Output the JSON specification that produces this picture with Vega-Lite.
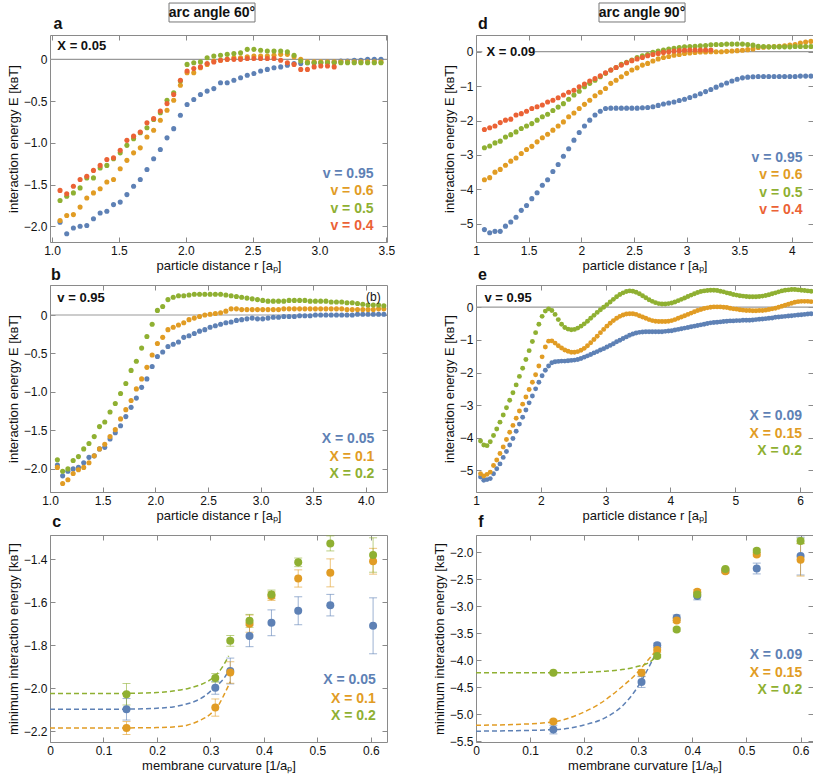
{
"$schema":"https://vega.github.io/schema/vega-lite/v6.json",
"background":"white",
"padding":{"left":6,"top":1,"right":2,"bottom":2},
"columns":2,
"spacing":{"row":43,"column":89},
"bounds":"flush",
"datasets":{
"one":[{}],
"a":[
{"r":1.06,"y":-1.95,"c":"b"},{"r":1.11,"y":-2.09,"c":"b"},{"r":1.16,"y":-2.02,"c":"b"},{"r":1.21,"y":-2.0,"c":"b"},{"r":1.26,"y":-1.99,"c":"b"},{"r":1.31,"y":-1.91,"c":"b"},{"r":1.36,"y":-1.84,"c":"b"},{"r":1.41,"y":-1.82,"c":"b"},{"r":1.46,"y":-1.74,"c":"b"},{"r":1.51,"y":-1.71,"c":"b"},{"r":1.56,"y":-1.62,"c":"b"},{"r":1.61,"y":-1.52,"c":"b"},{"r":1.66,"y":-1.44,"c":"b"},{"r":1.71,"y":-1.32,"c":"b"},{"r":1.76,"y":-1.19,"c":"b"},{"r":1.81,"y":-1.08,"c":"b"},{"r":1.86,"y":-0.94,"c":"b"},{"r":1.91,"y":-0.83,"c":"b"},{"r":1.96,"y":-0.67,"c":"b"},{"r":2.01,"y":-0.54,"c":"b"},{"r":2.06,"y":-0.48,"c":"b"},{"r":2.11,"y":-0.42,"c":"b"},{"r":2.16,"y":-0.38,"c":"b"},{"r":2.21,"y":-0.35,"c":"b"},{"r":2.26,"y":-0.28,"c":"b"},{"r":2.31,"y":-0.28,"c":"b"},{"r":2.36,"y":-0.25,"c":"b"},{"r":2.41,"y":-0.22,"c":"b"},{"r":2.46,"y":-0.19,"c":"b"},{"r":2.51,"y":-0.17,"c":"b"},{"r":2.56,"y":-0.14,"c":"b"},{"r":2.61,"y":-0.12,"c":"b"},{"r":2.66,"y":-0.1,"c":"b"},{"r":2.71,"y":-0.09,"c":"b"},{"r":2.76,"y":-0.07,"c":"b"},{"r":2.81,"y":-0.05,"c":"b"},{"r":2.86,"y":-0.05,"c":"b"},{"r":2.91,"y":-0.04,"c":"b"},{"r":2.96,"y":-0.04,"c":"b"},{"r":3.01,"y":-0.04,"c":"b"},{"r":3.06,"y":-0.03,"c":"b"},{"r":3.11,"y":-0.03,"c":"b"},{"r":3.16,"y":-0.02,"c":"b"},{"r":3.21,"y":-0.02,"c":"b"},{"r":3.26,"y":-0.01,"c":"b"},{"r":3.31,"y":-0.01,"c":"b"},{"r":3.36,"y":0.0,"c":"b"},{"r":3.41,"y":0.0,"c":"b"},{"r":3.46,"y":0.0,"c":"b"},
{"r":1.06,"y":-1.93,"c":"o"},{"r":1.11,"y":-1.87,"c":"o"},{"r":1.16,"y":-1.86,"c":"o"},{"r":1.21,"y":-1.77,"c":"o"},{"r":1.26,"y":-1.66,"c":"o"},{"r":1.31,"y":-1.6,"c":"o"},{"r":1.36,"y":-1.55,"c":"o"},{"r":1.41,"y":-1.47,"c":"o"},{"r":1.46,"y":-1.44,"c":"o"},{"r":1.51,"y":-1.31,"c":"o"},{"r":1.56,"y":-1.21,"c":"o"},{"r":1.61,"y":-1.12,"c":"o"},{"r":1.66,"y":-1.06,"c":"o"},{"r":1.71,"y":-0.93,"c":"o"},{"r":1.76,"y":-0.85,"c":"o"},{"r":1.81,"y":-0.73,"c":"o"},{"r":1.86,"y":-0.61,"c":"o"},{"r":1.91,"y":-0.49,"c":"o"},{"r":1.96,"y":-0.31,"c":"o"},{"r":2.01,"y":-0.16,"c":"o"},{"r":2.06,"y":-0.16,"c":"o"},{"r":2.11,"y":-0.1,"c":"o"},{"r":2.16,"y":-0.06,"c":"o"},{"r":2.21,"y":-0.02,"c":"o"},{"r":2.26,"y":-0.01,"c":"o"},{"r":2.31,"y":0.0,"c":"o"},{"r":2.36,"y":0.02,"c":"o"},{"r":2.41,"y":0.02,"c":"o"},{"r":2.46,"y":0.03,"c":"o"},{"r":2.51,"y":0.04,"c":"o"},{"r":2.56,"y":0.04,"c":"o"},{"r":2.61,"y":0.04,"c":"o"},{"r":2.66,"y":0.05,"c":"o"},{"r":2.71,"y":0.06,"c":"o"},{"r":2.76,"y":0.06,"c":"o"},{"r":2.81,"y":0.03,"c":"o"},{"r":2.86,"y":0.0,"c":"o"},{"r":2.91,"y":-0.03,"c":"o"},{"r":2.96,"y":-0.03,"c":"o"},{"r":3.01,"y":-0.03,"c":"o"},{"r":3.06,"y":-0.03,"c":"o"},{"r":3.11,"y":-0.03,"c":"o"},{"r":3.16,"y":-0.03,"c":"o"},{"r":3.21,"y":-0.03,"c":"o"},{"r":3.26,"y":-0.03,"c":"o"},{"r":3.31,"y":-0.03,"c":"o"},{"r":3.36,"y":-0.03,"c":"o"},{"r":3.41,"y":-0.03,"c":"o"},{"r":3.46,"y":-0.03,"c":"o"},
{"r":1.06,"y":-1.69,"c":"g"},{"r":1.11,"y":-1.64,"c":"g"},{"r":1.16,"y":-1.6,"c":"g"},{"r":1.21,"y":-1.54,"c":"g"},{"r":1.26,"y":-1.42,"c":"g"},{"r":1.31,"y":-1.42,"c":"g"},{"r":1.36,"y":-1.3,"c":"g"},{"r":1.41,"y":-1.27,"c":"g"},{"r":1.46,"y":-1.19,"c":"g"},{"r":1.51,"y":-1.12,"c":"g"},{"r":1.56,"y":-1.03,"c":"g"},{"r":1.61,"y":-0.95,"c":"g"},{"r":1.66,"y":-0.88,"c":"g"},{"r":1.71,"y":-0.82,"c":"g"},{"r":1.76,"y":-0.72,"c":"g"},{"r":1.81,"y":-0.64,"c":"g"},{"r":1.86,"y":-0.49,"c":"g"},{"r":1.91,"y":-0.4,"c":"g"},{"r":1.96,"y":-0.26,"c":"g"},{"r":2.01,"y":-0.06,"c":"g"},{"r":2.06,"y":-0.04,"c":"g"},{"r":2.11,"y":-0.03,"c":"g"},{"r":2.16,"y":0.02,"c":"g"},{"r":2.21,"y":0.04,"c":"g"},{"r":2.26,"y":0.05,"c":"g"},{"r":2.31,"y":0.06,"c":"g"},{"r":2.36,"y":0.07,"c":"g"},{"r":2.41,"y":0.08,"c":"g"},{"r":2.46,"y":0.12,"c":"g"},{"r":2.51,"y":0.12,"c":"g"},{"r":2.56,"y":0.11,"c":"g"},{"r":2.61,"y":0.1,"c":"g"},{"r":2.66,"y":0.1,"c":"g"},{"r":2.71,"y":0.1,"c":"g"},{"r":2.76,"y":0.09,"c":"g"},{"r":2.81,"y":0.05,"c":"g"},{"r":2.86,"y":-0.02,"c":"g"},{"r":2.91,"y":-0.04,"c":"g"},{"r":2.96,"y":-0.04,"c":"g"},{"r":3.01,"y":-0.04,"c":"g"},{"r":3.06,"y":-0.04,"c":"g"},{"r":3.11,"y":-0.04,"c":"g"},{"r":3.16,"y":-0.04,"c":"g"},{"r":3.21,"y":-0.04,"c":"g"},{"r":3.26,"y":-0.04,"c":"g"},{"r":3.31,"y":-0.04,"c":"g"},{"r":3.36,"y":-0.04,"c":"g"},{"r":3.41,"y":-0.04,"c":"g"},{"r":3.46,"y":-0.04,"c":"g"},
{"r":1.06,"y":-1.57,"c":"r"},{"r":1.11,"y":-1.61,"c":"r"},{"r":1.16,"y":-1.52,"c":"r"},{"r":1.21,"y":-1.44,"c":"r"},{"r":1.26,"y":-1.4,"c":"r"},{"r":1.31,"y":-1.33,"c":"r"},{"r":1.36,"y":-1.27,"c":"r"},{"r":1.41,"y":-1.2,"c":"r"},{"r":1.46,"y":-1.18,"c":"r"},{"r":1.51,"y":-1.09,"c":"r"},{"r":1.56,"y":-0.97,"c":"r"},{"r":1.61,"y":-0.92,"c":"r"},{"r":1.66,"y":-0.87,"c":"r"},{"r":1.71,"y":-0.76,"c":"r"},{"r":1.76,"y":-0.71,"c":"r"},{"r":1.81,"y":-0.62,"c":"r"},{"r":1.86,"y":-0.53,"c":"r"},{"r":1.91,"y":-0.42,"c":"r"},{"r":1.96,"y":-0.25,"c":"r"},{"r":2.01,"y":-0.14,"c":"r"},{"r":2.06,"y":-0.11,"c":"r"},{"r":2.11,"y":-0.09,"c":"r"},{"r":2.16,"y":-0.05,"c":"r"},{"r":2.21,"y":-0.03,"c":"r"},{"r":2.26,"y":-0.01,"c":"r"},{"r":2.31,"y":0.0,"c":"r"},{"r":2.36,"y":0.0,"c":"r"},{"r":2.41,"y":0.0,"c":"r"},{"r":2.46,"y":0.01,"c":"r"},{"r":2.51,"y":0.01,"c":"r"},{"r":2.56,"y":0.01,"c":"r"},{"r":2.61,"y":0.01,"c":"r"},{"r":2.66,"y":0.01,"c":"r"},{"r":2.71,"y":-0.01,"c":"r"},{"r":2.76,"y":-0.04,"c":"r"},{"r":2.81,"y":-0.06,"c":"r"},{"r":2.86,"y":-0.12,"c":"r"},{"r":2.91,"y":-0.12,"c":"r"},{"r":2.96,"y":-0.09,"c":"r"},{"r":3.01,"y":-0.08,"c":"r"},{"r":3.06,"y":-0.08,"c":"r"},{"r":3.11,"y":-0.09,"c":"r"}
],
"b":[
{"r":1.07,"y":-1.95,"c":"b"},{"r":1.12,"y":-2.09,"c":"b"},{"r":1.17,"y":-2.03,"c":"b"},{"r":1.22,"y":-2.0,"c":"b"},{"r":1.27,"y":-1.98,"c":"b"},{"r":1.32,"y":-1.92,"c":"b"},{"r":1.37,"y":-1.85,"c":"b"},{"r":1.42,"y":-1.83,"c":"b"},{"r":1.47,"y":-1.74,"c":"b"},{"r":1.52,"y":-1.72,"c":"b"},{"r":1.57,"y":-1.61,"c":"b"},{"r":1.62,"y":-1.53,"c":"b"},{"r":1.67,"y":-1.44,"c":"b"},{"r":1.72,"y":-1.32,"c":"b"},{"r":1.77,"y":-1.2,"c":"b"},{"r":1.82,"y":-1.08,"c":"b"},{"r":1.87,"y":-0.94,"c":"b"},{"r":1.92,"y":-0.83,"c":"b"},{"r":1.97,"y":-0.67,"c":"b"},{"r":2.02,"y":-0.54,"c":"b"},{"r":2.07,"y":-0.48,"c":"b"},{"r":2.12,"y":-0.41,"c":"b"},{"r":2.17,"y":-0.38,"c":"b"},{"r":2.22,"y":-0.35,"c":"b"},{"r":2.27,"y":-0.29,"c":"b"},{"r":2.32,"y":-0.27,"c":"b"},{"r":2.37,"y":-0.24,"c":"b"},{"r":2.42,"y":-0.21,"c":"b"},{"r":2.47,"y":-0.19,"c":"b"},{"r":2.52,"y":-0.16,"c":"b"},{"r":2.57,"y":-0.14,"c":"b"},{"r":2.62,"y":-0.12,"c":"b"},{"r":2.67,"y":-0.1,"c":"b"},{"r":2.72,"y":-0.09,"c":"b"},{"r":2.77,"y":-0.07,"c":"b"},{"r":2.82,"y":-0.06,"c":"b"},{"r":2.87,"y":-0.05,"c":"b"},{"r":2.92,"y":-0.04,"c":"b"},{"r":2.97,"y":-0.05,"c":"b"},{"r":3.02,"y":-0.05,"c":"b"},{"r":3.07,"y":-0.04,"c":"b"},{"r":3.12,"y":-0.03,"c":"b"},{"r":3.17,"y":-0.03,"c":"b"},{"r":3.22,"y":-0.02,"c":"b"},{"r":3.27,"y":-0.02,"c":"b"},{"r":3.32,"y":-0.02,"c":"b"},{"r":3.37,"y":-0.01,"c":"b"},{"r":3.42,"y":-0.01,"c":"b"},{"r":3.47,"y":-0.01,"c":"b"},{"r":3.52,"y":0.0,"c":"b"},{"r":3.57,"y":0.0,"c":"b"},{"r":3.62,"y":0.0,"c":"b"},{"r":3.67,"y":0.0,"c":"b"},{"r":3.72,"y":0.0,"c":"b"},{"r":3.77,"y":0.0,"c":"b"},{"r":3.82,"y":0.0,"c":"b"},{"r":3.87,"y":0.0,"c":"b"},{"r":3.92,"y":0.01,"c":"b"},{"r":3.97,"y":0.01,"c":"b"},{"r":4.02,"y":0.01,"c":"b"},{"r":4.07,"y":0.01,"c":"b"},{"r":4.12,"y":0.01,"c":"b"},{"r":4.17,"y":0.01,"c":"b"},
{"r":1.07,"y":-1.98,"c":"o"},{"r":1.12,"y":-2.19,"c":"o"},{"r":1.17,"y":-2.14,"c":"o"},{"r":1.22,"y":-2.06,"c":"o"},{"r":1.27,"y":-2.01,"c":"o"},{"r":1.32,"y":-1.98,"c":"o"},{"r":1.37,"y":-1.92,"c":"o"},{"r":1.42,"y":-1.83,"c":"o"},{"r":1.47,"y":-1.74,"c":"o"},{"r":1.52,"y":-1.68,"c":"o"},{"r":1.57,"y":-1.58,"c":"o"},{"r":1.62,"y":-1.49,"c":"o"},{"r":1.67,"y":-1.35,"c":"o"},{"r":1.72,"y":-1.23,"c":"o"},{"r":1.77,"y":-1.11,"c":"o"},{"r":1.82,"y":-0.96,"c":"o"},{"r":1.87,"y":-0.83,"c":"o"},{"r":1.92,"y":-0.68,"c":"o"},{"r":1.97,"y":-0.52,"c":"o"},{"r":2.02,"y":-0.37,"c":"o"},{"r":2.07,"y":-0.29,"c":"o"},{"r":2.12,"y":-0.19,"c":"o"},{"r":2.17,"y":-0.16,"c":"o"},{"r":2.22,"y":-0.13,"c":"o"},{"r":2.27,"y":-0.1,"c":"o"},{"r":2.32,"y":-0.06,"c":"o"},{"r":2.37,"y":-0.04,"c":"o"},{"r":2.42,"y":-0.02,"c":"o"},{"r":2.47,"y":0.0,"c":"o"},{"r":2.52,"y":0.01,"c":"o"},{"r":2.57,"y":0.02,"c":"o"},{"r":2.62,"y":0.03,"c":"o"},{"r":2.67,"y":0.05,"c":"o"},{"r":2.72,"y":0.08,"c":"o"},{"r":2.77,"y":0.08,"c":"o"},{"r":2.82,"y":0.07,"c":"o"},{"r":2.87,"y":0.07,"c":"o"},{"r":2.92,"y":0.07,"c":"o"},{"r":2.97,"y":0.07,"c":"o"},{"r":3.02,"y":0.07,"c":"o"},{"r":3.07,"y":0.07,"c":"o"},{"r":3.12,"y":0.07,"c":"o"},{"r":3.17,"y":0.07,"c":"o"},{"r":3.22,"y":0.08,"c":"o"},{"r":3.27,"y":0.08,"c":"o"},{"r":3.32,"y":0.08,"c":"o"},{"r":3.37,"y":0.08,"c":"o"},{"r":3.42,"y":0.08,"c":"o"},{"r":3.47,"y":0.08,"c":"o"},{"r":3.52,"y":0.08,"c":"o"},{"r":3.57,"y":0.08,"c":"o"},{"r":3.62,"y":0.08,"c":"o"},{"r":3.67,"y":0.08,"c":"o"},{"r":3.72,"y":0.08,"c":"o"},{"r":3.77,"y":0.08,"c":"o"},{"r":3.82,"y":0.07,"c":"o"},{"r":3.87,"y":0.07,"c":"o"},{"r":3.92,"y":0.07,"c":"o"},{"r":3.97,"y":0.07,"c":"o"},{"r":4.02,"y":0.07,"c":"o"},{"r":4.07,"y":0.07,"c":"o"},{"r":4.12,"y":0.08,"c":"o"},{"r":4.17,"y":0.08,"c":"o"},
{"r":1.07,"y":-1.88,"c":"g"},{"r":1.12,"y":-2.03,"c":"g"},{"r":1.17,"y":-2.0,"c":"g"},{"r":1.22,"y":-1.89,"c":"g"},{"r":1.27,"y":-1.84,"c":"g"},{"r":1.32,"y":-1.74,"c":"g"},{"r":1.37,"y":-1.67,"c":"g"},{"r":1.42,"y":-1.58,"c":"g"},{"r":1.47,"y":-1.45,"c":"g"},{"r":1.52,"y":-1.39,"c":"g"},{"r":1.57,"y":-1.26,"c":"g"},{"r":1.62,"y":-1.15,"c":"g"},{"r":1.67,"y":-1.02,"c":"g"},{"r":1.72,"y":-0.89,"c":"g"},{"r":1.77,"y":-0.72,"c":"g"},{"r":1.82,"y":-0.6,"c":"g"},{"r":1.87,"y":-0.43,"c":"g"},{"r":1.92,"y":-0.28,"c":"g"},{"r":1.97,"y":-0.12,"c":"g"},{"r":2.02,"y":0.06,"c":"g"},{"r":2.07,"y":0.11,"c":"g"},{"r":2.12,"y":0.2,"c":"g"},{"r":2.17,"y":0.23,"c":"g"},{"r":2.22,"y":0.25,"c":"g"},{"r":2.27,"y":0.25,"c":"g"},{"r":2.32,"y":0.26,"c":"g"},{"r":2.37,"y":0.27,"c":"g"},{"r":2.42,"y":0.27,"c":"g"},{"r":2.47,"y":0.27,"c":"g"},{"r":2.52,"y":0.27,"c":"g"},{"r":2.57,"y":0.27,"c":"g"},{"r":2.62,"y":0.27,"c":"g"},{"r":2.67,"y":0.26,"c":"g"},{"r":2.72,"y":0.25,"c":"g"},{"r":2.77,"y":0.24,"c":"g"},{"r":2.82,"y":0.23,"c":"g"},{"r":2.87,"y":0.22,"c":"g"},{"r":2.92,"y":0.21,"c":"g"},{"r":2.97,"y":0.2,"c":"g"},{"r":3.02,"y":0.19,"c":"g"},{"r":3.07,"y":0.18,"c":"g"},{"r":3.12,"y":0.18,"c":"g"},{"r":3.17,"y":0.18,"c":"g"},{"r":3.22,"y":0.18,"c":"g"},{"r":3.27,"y":0.19,"c":"g"},{"r":3.32,"y":0.19,"c":"g"},{"r":3.37,"y":0.19,"c":"g"},{"r":3.42,"y":0.19,"c":"g"},{"r":3.47,"y":0.18,"c":"g"},{"r":3.52,"y":0.18,"c":"g"},{"r":3.57,"y":0.18,"c":"g"},{"r":3.62,"y":0.18,"c":"g"},{"r":3.67,"y":0.17,"c":"g"},{"r":3.72,"y":0.17,"c":"g"},{"r":3.77,"y":0.17,"c":"g"},{"r":3.82,"y":0.16,"c":"g"},{"r":3.87,"y":0.16,"c":"g"},{"r":3.92,"y":0.15,"c":"g"},{"r":3.97,"y":0.14,"c":"g"},{"r":4.02,"y":0.13,"c":"g"},{"r":4.07,"y":0.13,"c":"g"},{"r":4.12,"y":0.13,"c":"g"},{"r":4.17,"y":0.12,"c":"g"}
],
"c":[
{"r":0.143,"y":-2.098,"lo":-2.148,"hi":-2.048,"c":"b"},{"r":0.309,"y":-1.998,"lo":-2.028,"hi":-1.968,"c":"b"},{"r":0.337,"y":-1.92,"lo":-1.98,"hi":-1.86,"c":"b"},{"r":0.373,"y":-1.757,"lo":-1.807,"hi":-1.707,"c":"b"},{"r":0.414,"y":-1.696,"lo":-1.756,"hi":-1.636,"c":"b"},{"r":0.464,"y":-1.64,"lo":-1.705,"hi":-1.575,"c":"b"},{"r":0.524,"y":-1.614,"lo":-1.664,"hi":-1.564,"c":"b"},{"r":0.604,"y":-1.71,"lo":-1.84,"hi":-1.58,"c":"b"},
{"r":0.143,"y":-2.185,"lo":-2.215,"hi":-2.155,"c":"o"},{"r":0.309,"y":-2.09,"lo":-2.13,"hi":-2.05,"c":"o"},{"r":0.337,"y":-1.927,"lo":-1.977,"hi":-1.877,"c":"o"},{"r":0.373,"y":-1.7,"lo":-1.74,"hi":-1.66,"c":"o"},{"r":0.414,"y":-1.572,"lo":-1.592,"hi":-1.552,"c":"o"},{"r":0.464,"y":-1.49,"lo":-1.53,"hi":-1.45,"c":"o"},{"r":0.524,"y":-1.464,"lo":-1.529,"hi":-1.399,"c":"o"},{"r":0.604,"y":-1.41,"lo":-1.47,"hi":-1.35,"c":"o"},
{"r":0.143,"y":-2.028,"lo":-2.078,"hi":-1.978,"c":"g"},{"r":0.309,"y":-1.952,"lo":-1.972,"hi":-1.932,"c":"g"},{"r":0.337,"y":-1.78,"lo":-1.805,"hi":-1.755,"c":"g"},{"r":0.373,"y":-1.687,"lo":-1.717,"hi":-1.657,"c":"g"},{"r":0.414,"y":-1.564,"lo":-1.584,"hi":-1.544,"c":"g"},{"r":0.464,"y":-1.415,"lo":-1.435,"hi":-1.395,"c":"g"},{"r":0.524,"y":-1.327,"lo":-1.362,"hi":-1.292,"c":"g"},{"r":0.604,"y":-1.381,"lo":-1.461,"hi":-1.301,"c":"g"}
],
"cfit":[
{"r":0,"y":-2.098,"c":"b"},{"r":0.1,"y":-2.098,"c":"b"},{"r":0.15,"y":-2.097,"c":"b"},{"r":0.2,"y":-2.093,"c":"b"},{"r":0.23,"y":-2.087,"c":"b"},{"r":0.25,"y":-2.077,"c":"b"},{"r":0.27,"y":-2.062,"c":"b"},{"r":0.29,"y":-2.035,"c":"b"},{"r":0.306,"y":-2.0,"c":"b"},{"r":0.325,"y":-1.955,"c":"b"},{"r":0.334,"y":-1.92,"c":"b"},
{"r":0,"y":-2.185,"c":"o"},{"r":0.1,"y":-2.185,"c":"o"},{"r":0.2,"y":-2.183,"c":"o"},{"r":0.23,"y":-2.18,"c":"o"},{"r":0.256,"y":-2.172,"c":"o"},{"r":0.28,"y":-2.15,"c":"o"},{"r":0.3,"y":-2.12,"c":"o"},{"r":0.317,"y":-2.07,"c":"o"},{"r":0.328,"y":-2.017,"c":"o"},{"r":0.337,"y":-1.97,"c":"o"},
{"r":0,"y":-2.025,"c":"g"},{"r":0.1,"y":-2.025,"c":"g"},{"r":0.15,"y":-2.024,"c":"g"},{"r":0.2,"y":-2.02,"c":"g"},{"r":0.23,"y":-2.013,"c":"g"},{"r":0.26,"y":-2.0,"c":"g"},{"r":0.28,"y":-1.985,"c":"g"},{"r":0.3,"y":-1.96,"c":"g"},{"r":0.31,"y":-1.94,"c":"g"},{"r":0.32,"y":-1.91,"c":"g"},{"r":0.334,"y":-1.85,"c":"g"}
],
"d":[
{"r":1.08,"y":-5.17,"c":"b"},{"r":1.13,"y":-5.26,"c":"b"},{"r":1.18,"y":-5.22,"c":"b"},{"r":1.23,"y":-5.22,"c":"b"},{"r":1.28,"y":-5.07,"c":"b"},{"r":1.33,"y":-4.95,"c":"b"},{"r":1.38,"y":-4.81,"c":"b"},{"r":1.43,"y":-4.61,"c":"b"},{"r":1.48,"y":-4.47,"c":"b"},{"r":1.53,"y":-4.27,"c":"b"},{"r":1.58,"y":-4.1,"c":"b"},{"r":1.63,"y":-3.88,"c":"b"},{"r":1.68,"y":-3.72,"c":"b"},{"r":1.73,"y":-3.48,"c":"b"},{"r":1.78,"y":-3.28,"c":"b"},{"r":1.83,"y":-3.04,"c":"b"},{"r":1.88,"y":-2.82,"c":"b"},{"r":1.93,"y":-2.57,"c":"b"},{"r":1.98,"y":-2.35,"c":"b"},{"r":2.03,"y":-2.16,"c":"b"},{"r":2.08,"y":-1.99,"c":"b"},{"r":2.13,"y":-1.84,"c":"b"},{"r":2.18,"y":-1.73,"c":"b"},{"r":2.23,"y":-1.65,"c":"b"},{"r":2.28,"y":-1.64,"c":"b"},{"r":2.33,"y":-1.64,"c":"b"},{"r":2.38,"y":-1.64,"c":"b"},{"r":2.43,"y":-1.64,"c":"b"},{"r":2.48,"y":-1.64,"c":"b"},{"r":2.53,"y":-1.64,"c":"b"},{"r":2.58,"y":-1.63,"c":"b"},{"r":2.63,"y":-1.62,"c":"b"},{"r":2.68,"y":-1.6,"c":"b"},{"r":2.73,"y":-1.56,"c":"b"},{"r":2.78,"y":-1.52,"c":"b"},{"r":2.83,"y":-1.49,"c":"b"},{"r":2.88,"y":-1.46,"c":"b"},{"r":2.93,"y":-1.42,"c":"b"},{"r":2.98,"y":-1.38,"c":"b"},{"r":3.03,"y":-1.33,"c":"b"},{"r":3.08,"y":-1.28,"c":"b"},{"r":3.13,"y":-1.22,"c":"b"},{"r":3.18,"y":-1.16,"c":"b"},{"r":3.23,"y":-1.1,"c":"b"},{"r":3.28,"y":-1.03,"c":"b"},{"r":3.33,"y":-0.97,"c":"b"},{"r":3.38,"y":-0.91,"c":"b"},{"r":3.43,"y":-0.85,"c":"b"},{"r":3.48,"y":-0.8,"c":"b"},{"r":3.53,"y":-0.76,"c":"b"},{"r":3.58,"y":-0.74,"c":"b"},{"r":3.63,"y":-0.73,"c":"b"},{"r":3.68,"y":-0.72,"c":"b"},{"r":3.73,"y":-0.72,"c":"b"},{"r":3.78,"y":-0.72,"c":"b"},{"r":3.83,"y":-0.72,"c":"b"},{"r":3.88,"y":-0.72,"c":"b"},{"r":3.93,"y":-0.72,"c":"b"},{"r":3.98,"y":-0.72,"c":"b"},{"r":4.03,"y":-0.72,"c":"b"},{"r":4.08,"y":-0.71,"c":"b"},{"r":4.13,"y":-0.71,"c":"b"},{"r":4.18,"y":-0.71,"c":"b"},
{"r":1.08,"y":-3.72,"c":"o"},{"r":1.13,"y":-3.66,"c":"o"},{"r":1.18,"y":-3.5,"c":"o"},{"r":1.23,"y":-3.42,"c":"o"},{"r":1.28,"y":-3.3,"c":"o"},{"r":1.33,"y":-3.18,"c":"o"},{"r":1.38,"y":-3.09,"c":"o"},{"r":1.43,"y":-2.96,"c":"o"},{"r":1.48,"y":-2.84,"c":"o"},{"r":1.53,"y":-2.75,"c":"o"},{"r":1.58,"y":-2.62,"c":"o"},{"r":1.63,"y":-2.5,"c":"o"},{"r":1.68,"y":-2.4,"c":"o"},{"r":1.73,"y":-2.28,"c":"o"},{"r":1.78,"y":-2.16,"c":"o"},{"r":1.83,"y":-2.04,"c":"o"},{"r":1.88,"y":-1.89,"c":"o"},{"r":1.93,"y":-1.78,"c":"o"},{"r":1.98,"y":-1.65,"c":"o"},{"r":2.03,"y":-1.53,"c":"o"},{"r":2.08,"y":-1.41,"c":"o"},{"r":2.13,"y":-1.28,"c":"o"},{"r":2.18,"y":-1.18,"c":"o"},{"r":2.23,"y":-1.07,"c":"o"},{"r":2.28,"y":-0.92,"c":"o"},{"r":2.33,"y":-0.83,"c":"o"},{"r":2.38,"y":-0.73,"c":"o"},{"r":2.43,"y":-0.63,"c":"o"},{"r":2.48,"y":-0.53,"c":"o"},{"r":2.53,"y":-0.47,"c":"o"},{"r":2.58,"y":-0.39,"c":"o"},{"r":2.63,"y":-0.34,"c":"o"},{"r":2.68,"y":-0.27,"c":"o"},{"r":2.73,"y":-0.21,"c":"o"},{"r":2.78,"y":-0.17,"c":"o"},{"r":2.83,"y":-0.14,"c":"o"},{"r":2.88,"y":-0.1,"c":"o"},{"r":2.93,"y":-0.08,"c":"o"},{"r":2.98,"y":-0.05,"c":"o"},{"r":3.03,"y":-0.04,"c":"o"},{"r":3.08,"y":-0.02,"c":"o"},{"r":3.13,"y":-0.01,"c":"o"},{"r":3.18,"y":-0.01,"c":"o"},{"r":3.23,"y":0.0,"c":"o"},{"r":3.28,"y":0.0,"c":"o"},{"r":3.33,"y":0.0,"c":"o"},{"r":3.38,"y":0.01,"c":"o"},{"r":3.43,"y":0.02,"c":"o"},{"r":3.48,"y":0.03,"c":"o"},{"r":3.53,"y":0.04,"c":"o"},{"r":3.58,"y":0.06,"c":"o"},{"r":3.63,"y":0.08,"c":"o"},{"r":3.68,"y":0.12,"c":"o"},{"r":3.73,"y":0.13,"c":"o"},{"r":3.78,"y":0.14,"c":"o"},{"r":3.83,"y":0.15,"c":"o"},{"r":3.88,"y":0.16,"c":"o"},{"r":3.93,"y":0.17,"c":"o"},{"r":3.98,"y":0.19,"c":"o"},{"r":4.03,"y":0.21,"c":"o"},{"r":4.08,"y":0.25,"c":"o"},{"r":4.13,"y":0.28,"c":"o"},{"r":4.18,"y":0.3,"c":"o"},
{"r":1.08,"y":-2.79,"c":"g"},{"r":1.13,"y":-2.74,"c":"g"},{"r":1.18,"y":-2.65,"c":"g"},{"r":1.23,"y":-2.6,"c":"g"},{"r":1.28,"y":-2.48,"c":"g"},{"r":1.33,"y":-2.41,"c":"g"},{"r":1.38,"y":-2.33,"c":"g"},{"r":1.43,"y":-2.23,"c":"g"},{"r":1.48,"y":-2.16,"c":"g"},{"r":1.53,"y":-2.09,"c":"g"},{"r":1.58,"y":-1.99,"c":"g"},{"r":1.63,"y":-1.89,"c":"g"},{"r":1.68,"y":-1.82,"c":"g"},{"r":1.73,"y":-1.71,"c":"g"},{"r":1.78,"y":-1.61,"c":"g"},{"r":1.83,"y":-1.51,"c":"g"},{"r":1.88,"y":-1.38,"c":"g"},{"r":1.93,"y":-1.26,"c":"g"},{"r":1.98,"y":-1.15,"c":"g"},{"r":2.03,"y":-1.02,"c":"g"},{"r":2.08,"y":-0.92,"c":"g"},{"r":2.13,"y":-0.83,"c":"g"},{"r":2.18,"y":-0.73,"c":"g"},{"r":2.23,"y":-0.63,"c":"g"},{"r":2.28,"y":-0.53,"c":"g"},{"r":2.33,"y":-0.46,"c":"g"},{"r":2.38,"y":-0.37,"c":"g"},{"r":2.43,"y":-0.31,"c":"g"},{"r":2.48,"y":-0.24,"c":"g"},{"r":2.53,"y":-0.17,"c":"g"},{"r":2.58,"y":-0.12,"c":"g"},{"r":2.63,"y":-0.08,"c":"g"},{"r":2.68,"y":-0.02,"c":"g"},{"r":2.73,"y":0.02,"c":"g"},{"r":2.78,"y":0.05,"c":"g"},{"r":2.83,"y":0.08,"c":"g"},{"r":2.88,"y":0.1,"c":"g"},{"r":2.93,"y":0.12,"c":"g"},{"r":2.98,"y":0.14,"c":"g"},{"r":3.03,"y":0.15,"c":"g"},{"r":3.08,"y":0.16,"c":"g"},{"r":3.13,"y":0.17,"c":"g"},{"r":3.18,"y":0.18,"c":"g"},{"r":3.23,"y":0.2,"c":"g"},{"r":3.28,"y":0.21,"c":"g"},{"r":3.33,"y":0.21,"c":"g"},{"r":3.38,"y":0.22,"c":"g"},{"r":3.43,"y":0.22,"c":"g"},{"r":3.48,"y":0.22,"c":"g"},{"r":3.53,"y":0.22,"c":"g"},{"r":3.58,"y":0.21,"c":"g"},{"r":3.63,"y":0.19,"c":"g"},{"r":3.68,"y":0.16,"c":"g"},{"r":3.73,"y":0.15,"c":"g"},{"r":3.78,"y":0.14,"c":"g"},{"r":3.83,"y":0.14,"c":"g"},{"r":3.88,"y":0.14,"c":"g"},{"r":3.93,"y":0.14,"c":"g"},{"r":3.98,"y":0.14,"c":"g"},{"r":4.03,"y":0.15,"c":"g"},{"r":4.08,"y":0.15,"c":"g"},{"r":4.13,"y":0.15,"c":"g"},{"r":4.18,"y":0.15,"c":"g"},
{"r":1.08,"y":-2.26,"c":"r"},{"r":1.13,"y":-2.21,"c":"r"},{"r":1.18,"y":-2.16,"c":"r"},{"r":1.23,"y":-2.06,"c":"r"},{"r":1.28,"y":-1.99,"c":"r"},{"r":1.33,"y":-1.96,"c":"r"},{"r":1.38,"y":-1.84,"c":"r"},{"r":1.43,"y":-1.8,"c":"r"},{"r":1.48,"y":-1.73,"c":"r"},{"r":1.53,"y":-1.65,"c":"r"},{"r":1.58,"y":-1.6,"c":"r"},{"r":1.63,"y":-1.55,"c":"r"},{"r":1.68,"y":-1.46,"c":"r"},{"r":1.73,"y":-1.41,"c":"r"},{"r":1.78,"y":-1.34,"c":"r"},{"r":1.83,"y":-1.26,"c":"r"},{"r":1.88,"y":-1.18,"c":"r"},{"r":1.93,"y":-1.12,"c":"r"},{"r":1.98,"y":-1.02,"c":"r"},{"r":2.03,"y":-0.94,"c":"r"},{"r":2.08,"y":-0.85,"c":"r"},{"r":2.13,"y":-0.78,"c":"r"},{"r":2.18,"y":-0.7,"c":"r"},{"r":2.23,"y":-0.61,"c":"r"},{"r":2.28,"y":-0.53,"c":"r"},{"r":2.33,"y":-0.46,"c":"r"},{"r":2.38,"y":-0.39,"c":"r"},{"r":2.43,"y":-0.32,"c":"r"},{"r":2.48,"y":-0.26,"c":"r"},{"r":2.53,"y":-0.21,"c":"r"},{"r":2.58,"y":-0.17,"c":"r"},{"r":2.63,"y":-0.12,"c":"r"},{"r":2.68,"y":-0.08,"c":"r"},{"r":2.73,"y":-0.05,"c":"r"},{"r":2.78,"y":-0.02,"c":"r"},{"r":2.83,"y":0.0,"c":"r"},{"r":2.88,"y":0.02,"c":"r"},{"r":2.93,"y":0.03,"c":"r"},{"r":2.98,"y":0.04,"c":"r"},{"r":3.03,"y":0.05,"c":"r"},{"r":3.08,"y":0.05,"c":"r"},{"r":3.13,"y":0.05,"c":"r"},{"r":3.18,"y":0.05,"c":"r"},{"r":3.23,"y":0.05,"c":"r"}
],
"e":[
{"r":1.07,"y":-5.2,"c":"b"},{"r":1.12,"y":-5.3,"c":"b"},{"r":1.17,"y":-5.28,"c":"b"},{"r":1.22,"y":-5.25,"c":"b"},{"r":1.27,"y":-5.1,"c":"b"},{"r":1.32,"y":-4.95,"c":"b"},{"r":1.37,"y":-4.8,"c":"b"},{"r":1.42,"y":-4.6,"c":"b"},{"r":1.47,"y":-4.42,"c":"b"},{"r":1.52,"y":-4.22,"c":"b"},{"r":1.57,"y":-4.02,"c":"b"},{"r":1.62,"y":-3.8,"c":"b"},{"r":1.67,"y":-3.58,"c":"b"},{"r":1.72,"y":-3.37,"c":"b"},{"r":1.77,"y":-3.15,"c":"b"},{"r":1.82,"y":-2.93,"c":"b"},{"r":1.87,"y":-2.72,"c":"b"},{"r":1.92,"y":-2.5,"c":"b"},{"r":1.97,"y":-2.3,"c":"b"},{"r":2.02,"y":-2.1,"c":"b"},{"r":2.07,"y":-1.93,"c":"b"},{"r":2.12,"y":-1.8,"c":"b"},{"r":2.17,"y":-1.7,"c":"b"},{"r":2.22,"y":-1.67,"c":"b"},{"r":2.27,"y":-1.66,"c":"b"},{"r":2.32,"y":-1.65,"c":"b"},{"r":2.37,"y":-1.65,"c":"b"},{"r":2.42,"y":-1.64,"c":"b"},{"r":2.47,"y":-1.63,"c":"b"},{"r":2.52,"y":-1.62,"c":"b"},{"r":2.57,"y":-1.6,"c":"b"},{"r":2.62,"y":-1.57,"c":"b"},{"r":2.67,"y":-1.53,"c":"b"},{"r":2.72,"y":-1.49,"c":"b"},{"r":2.77,"y":-1.45,"c":"b"},{"r":2.82,"y":-1.4,"c":"b"},{"r":2.87,"y":-1.36,"c":"b"},{"r":2.92,"y":-1.31,"c":"b"},{"r":2.97,"y":-1.27,"c":"b"},{"r":3.02,"y":-1.22,"c":"b"},{"r":3.07,"y":-1.17,"c":"b"},{"r":3.12,"y":-1.12,"c":"b"},{"r":3.17,"y":-1.06,"c":"b"},{"r":3.22,"y":-1.01,"c":"b"},{"r":3.27,"y":-0.96,"c":"b"},{"r":3.32,"y":-0.91,"c":"b"},{"r":3.37,"y":-0.86,"c":"b"},{"r":3.42,"y":-0.82,"c":"b"},{"r":3.47,"y":-0.79,"c":"b"},{"r":3.52,"y":-0.77,"c":"b"},{"r":3.57,"y":-0.76,"c":"b"},{"r":3.62,"y":-0.75,"c":"b"},{"r":3.67,"y":-0.75,"c":"b"},{"r":3.72,"y":-0.75,"c":"b"},{"r":3.77,"y":-0.75,"c":"b"},{"r":3.82,"y":-0.75,"c":"b"},{"r":3.87,"y":-0.75,"c":"b"},{"r":3.92,"y":-0.74,"c":"b"},{"r":3.97,"y":-0.73,"c":"b"},{"r":4.02,"y":-0.72,"c":"b"},{"r":4.07,"y":-0.7,"c":"b"},{"r":4.12,"y":-0.68,"c":"b"},{"r":4.17,"y":-0.66,"c":"b"},{"r":4.22,"y":-0.64,"c":"b"},{"r":4.27,"y":-0.62,"c":"b"},{"r":4.32,"y":-0.6,"c":"b"},{"r":4.37,"y":-0.58,"c":"b"},{"r":4.42,"y":-0.56,"c":"b"},{"r":4.47,"y":-0.54,"c":"b"},{"r":4.52,"y":-0.52,"c":"b"},{"r":4.57,"y":-0.5,"c":"b"},{"r":4.62,"y":-0.48,"c":"b"},{"r":4.67,"y":-0.47,"c":"b"},{"r":4.72,"y":-0.46,"c":"b"},{"r":4.77,"y":-0.45,"c":"b"},{"r":4.82,"y":-0.44,"c":"b"},{"r":4.87,"y":-0.43,"c":"b"},{"r":4.92,"y":-0.42,"c":"b"},{"r":4.97,"y":-0.42,"c":"b"},{"r":5.02,"y":-0.41,"c":"b"},{"r":5.07,"y":-0.41,"c":"b"},{"r":5.12,"y":-0.4,"c":"b"},{"r":5.17,"y":-0.4,"c":"b"},{"r":5.22,"y":-0.4,"c":"b"},{"r":5.27,"y":-0.39,"c":"b"},{"r":5.32,"y":-0.38,"c":"b"},{"r":5.37,"y":-0.37,"c":"b"},{"r":5.42,"y":-0.36,"c":"b"},{"r":5.47,"y":-0.35,"c":"b"},{"r":5.52,"y":-0.34,"c":"b"},{"r":5.57,"y":-0.33,"c":"b"},{"r":5.62,"y":-0.31,"c":"b"},{"r":5.67,"y":-0.3,"c":"b"},{"r":5.72,"y":-0.29,"c":"b"},{"r":5.77,"y":-0.28,"c":"b"},{"r":5.82,"y":-0.27,"c":"b"},{"r":5.87,"y":-0.26,"c":"b"},{"r":5.92,"y":-0.25,"c":"b"},{"r":5.97,"y":-0.24,"c":"b"},{"r":6.02,"y":-0.23,"c":"b"},{"r":6.07,"y":-0.22,"c":"b"},{"r":6.12,"y":-0.21,"c":"b"},{"r":6.17,"y":-0.2,"c":"b"},
{"r":1.07,"y":-5.1,"c":"o"},{"r":1.12,"y":-5.17,"c":"o"},{"r":1.17,"y":-5.12,"c":"o"},{"r":1.22,"y":-5.05,"c":"o"},{"r":1.27,"y":-4.85,"c":"o"},{"r":1.32,"y":-4.68,"c":"o"},{"r":1.37,"y":-4.48,"c":"o"},{"r":1.42,"y":-4.28,"c":"o"},{"r":1.47,"y":-4.05,"c":"o"},{"r":1.52,"y":-3.83,"c":"o"},{"r":1.57,"y":-3.62,"c":"o"},{"r":1.62,"y":-3.4,"c":"o"},{"r":1.67,"y":-3.18,"c":"o"},{"r":1.72,"y":-2.97,"c":"o"},{"r":1.77,"y":-2.75,"c":"o"},{"r":1.82,"y":-2.52,"c":"o"},{"r":1.87,"y":-2.3,"c":"o"},{"r":1.92,"y":-2.07,"c":"o"},{"r":1.97,"y":-1.8,"c":"o"},{"r":2.02,"y":-1.52,"c":"o"},{"r":2.07,"y":-1.22,"c":"o"},{"r":2.12,"y":-1.04,"c":"o"},{"r":2.17,"y":-1.03,"c":"o"},{"r":2.22,"y":-1.1,"c":"o"},{"r":2.27,"y":-1.18,"c":"o"},{"r":2.32,"y":-1.25,"c":"o"},{"r":2.37,"y":-1.31,"c":"o"},{"r":2.42,"y":-1.35,"c":"o"},{"r":2.47,"y":-1.38,"c":"o"},{"r":2.52,"y":-1.38,"c":"o"},{"r":2.57,"y":-1.36,"c":"o"},{"r":2.62,"y":-1.32,"c":"o"},{"r":2.67,"y":-1.26,"c":"o"},{"r":2.72,"y":-1.18,"c":"o"},{"r":2.77,"y":-1.09,"c":"o"},{"r":2.82,"y":-0.99,"c":"o"},{"r":2.87,"y":-0.89,"c":"o"},{"r":2.92,"y":-0.78,"c":"o"},{"r":2.97,"y":-0.68,"c":"o"},{"r":3.02,"y":-0.58,"c":"o"},{"r":3.07,"y":-0.49,"c":"o"},{"r":3.12,"y":-0.41,"c":"o"},{"r":3.17,"y":-0.34,"c":"o"},{"r":3.22,"y":-0.28,"c":"o"},{"r":3.27,"y":-0.24,"c":"o"},{"r":3.32,"y":-0.21,"c":"o"},{"r":3.37,"y":-0.2,"c":"o"},{"r":3.42,"y":-0.2,"c":"o"},{"r":3.47,"y":-0.22,"c":"o"},{"r":3.52,"y":-0.26,"c":"o"},{"r":3.57,"y":-0.3,"c":"o"},{"r":3.62,"y":-0.34,"c":"o"},{"r":3.67,"y":-0.38,"c":"o"},{"r":3.72,"y":-0.41,"c":"o"},{"r":3.77,"y":-0.43,"c":"o"},{"r":3.82,"y":-0.44,"c":"o"},{"r":3.87,"y":-0.44,"c":"o"},{"r":3.92,"y":-0.44,"c":"o"},{"r":3.97,"y":-0.43,"c":"o"},{"r":4.02,"y":-0.41,"c":"o"},{"r":4.07,"y":-0.38,"c":"o"},{"r":4.12,"y":-0.34,"c":"o"},{"r":4.17,"y":-0.3,"c":"o"},{"r":4.22,"y":-0.26,"c":"o"},{"r":4.27,"y":-0.22,"c":"o"},{"r":4.32,"y":-0.18,"c":"o"},{"r":4.37,"y":-0.14,"c":"o"},{"r":4.42,"y":-0.1,"c":"o"},{"r":4.47,"y":-0.07,"c":"o"},{"r":4.52,"y":-0.04,"c":"o"},{"r":4.57,"y":-0.02,"c":"o"},{"r":4.62,"y":0.0,"c":"o"},{"r":4.67,"y":0.01,"c":"o"},{"r":4.72,"y":0.01,"c":"o"},{"r":4.77,"y":0.01,"c":"o"},{"r":4.82,"y":0.0,"c":"o"},{"r":4.87,"y":-0.01,"c":"o"},{"r":4.92,"y":-0.03,"c":"o"},{"r":4.97,"y":-0.05,"c":"o"},{"r":5.02,"y":-0.06,"c":"o"},{"r":5.07,"y":-0.08,"c":"o"},{"r":5.12,"y":-0.09,"c":"o"},{"r":5.17,"y":-0.1,"c":"o"},{"r":5.22,"y":-0.1,"c":"o"},{"r":5.27,"y":-0.11,"c":"o"},{"r":5.32,"y":-0.11,"c":"o"},{"r":5.37,"y":-0.1,"c":"o"},{"r":5.42,"y":-0.1,"c":"o"},{"r":5.47,"y":-0.09,"c":"o"},{"r":5.52,"y":-0.07,"c":"o"},{"r":5.57,"y":-0.05,"c":"o"},{"r":5.62,"y":-0.03,"c":"o"},{"r":5.67,"y":0.0,"c":"o"},{"r":5.72,"y":0.03,"c":"o"},{"r":5.77,"y":0.06,"c":"o"},{"r":5.82,"y":0.09,"c":"o"},{"r":5.87,"y":0.12,"c":"o"},{"r":5.92,"y":0.15,"c":"o"},{"r":5.97,"y":0.17,"c":"o"},{"r":6.02,"y":0.18,"c":"o"},{"r":6.07,"y":0.18,"c":"o"},{"r":6.12,"y":0.18,"c":"o"},{"r":6.17,"y":0.17,"c":"o"},
{"r":1.07,"y":-4.1,"c":"g"},{"r":1.12,"y":-4.22,"c":"g"},{"r":1.17,"y":-4.24,"c":"g"},{"r":1.22,"y":-4.12,"c":"g"},{"r":1.27,"y":-3.93,"c":"g"},{"r":1.32,"y":-3.73,"c":"g"},{"r":1.37,"y":-3.52,"c":"g"},{"r":1.42,"y":-3.3,"c":"g"},{"r":1.47,"y":-3.08,"c":"g"},{"r":1.52,"y":-2.85,"c":"g"},{"r":1.57,"y":-2.62,"c":"g"},{"r":1.62,"y":-2.38,"c":"g"},{"r":1.67,"y":-2.12,"c":"g"},{"r":1.72,"y":-1.87,"c":"g"},{"r":1.77,"y":-1.6,"c":"g"},{"r":1.82,"y":-1.33,"c":"g"},{"r":1.87,"y":-1.05,"c":"g"},{"r":1.92,"y":-0.78,"c":"g"},{"r":1.97,"y":-0.52,"c":"g"},{"r":2.02,"y":-0.28,"c":"g"},{"r":2.07,"y":-0.12,"c":"g"},{"r":2.12,"y":-0.05,"c":"g"},{"r":2.17,"y":-0.1,"c":"g"},{"r":2.22,"y":-0.22,"c":"g"},{"r":2.27,"y":-0.38,"c":"g"},{"r":2.32,"y":-0.52,"c":"g"},{"r":2.37,"y":-0.62,"c":"g"},{"r":2.42,"y":-0.67,"c":"g"},{"r":2.47,"y":-0.69,"c":"g"},{"r":2.52,"y":-0.68,"c":"g"},{"r":2.57,"y":-0.64,"c":"g"},{"r":2.62,"y":-0.58,"c":"g"},{"r":2.67,"y":-0.51,"c":"g"},{"r":2.72,"y":-0.43,"c":"g"},{"r":2.77,"y":-0.34,"c":"g"},{"r":2.82,"y":-0.25,"c":"g"},{"r":2.87,"y":-0.16,"c":"g"},{"r":2.92,"y":-0.08,"c":"g"},{"r":2.97,"y":0.0,"c":"g"},{"r":3.02,"y":0.08,"c":"g"},{"r":3.07,"y":0.16,"c":"g"},{"r":3.12,"y":0.24,"c":"g"},{"r":3.17,"y":0.32,"c":"g"},{"r":3.22,"y":0.39,"c":"g"},{"r":3.27,"y":0.44,"c":"g"},{"r":3.32,"y":0.48,"c":"g"},{"r":3.37,"y":0.5,"c":"g"},{"r":3.42,"y":0.49,"c":"g"},{"r":3.47,"y":0.46,"c":"g"},{"r":3.52,"y":0.41,"c":"g"},{"r":3.57,"y":0.35,"c":"g"},{"r":3.62,"y":0.29,"c":"g"},{"r":3.67,"y":0.23,"c":"g"},{"r":3.72,"y":0.18,"c":"g"},{"r":3.77,"y":0.14,"c":"g"},{"r":3.82,"y":0.11,"c":"g"},{"r":3.87,"y":0.1,"c":"g"},{"r":3.92,"y":0.1,"c":"g"},{"r":3.97,"y":0.11,"c":"g"},{"r":4.02,"y":0.13,"c":"g"},{"r":4.07,"y":0.16,"c":"g"},{"r":4.12,"y":0.2,"c":"g"},{"r":4.17,"y":0.24,"c":"g"},{"r":4.22,"y":0.28,"c":"g"},{"r":4.27,"y":0.33,"c":"g"},{"r":4.32,"y":0.37,"c":"g"},{"r":4.37,"y":0.41,"c":"g"},{"r":4.42,"y":0.45,"c":"g"},{"r":4.47,"y":0.48,"c":"g"},{"r":4.52,"y":0.5,"c":"g"},{"r":4.57,"y":0.51,"c":"g"},{"r":4.62,"y":0.52,"c":"g"},{"r":4.67,"y":0.52,"c":"g"},{"r":4.72,"y":0.51,"c":"g"},{"r":4.77,"y":0.49,"c":"g"},{"r":4.82,"y":0.47,"c":"g"},{"r":4.87,"y":0.44,"c":"g"},{"r":4.92,"y":0.42,"c":"g"},{"r":4.97,"y":0.39,"c":"g"},{"r":5.02,"y":0.37,"c":"g"},{"r":5.07,"y":0.35,"c":"g"},{"r":5.12,"y":0.34,"c":"g"},{"r":5.17,"y":0.33,"c":"g"},{"r":5.22,"y":0.32,"c":"g"},{"r":5.27,"y":0.32,"c":"g"},{"r":5.32,"y":0.32,"c":"g"},{"r":5.37,"y":0.33,"c":"g"},{"r":5.42,"y":0.34,"c":"g"},{"r":5.47,"y":0.36,"c":"g"},{"r":5.52,"y":0.38,"c":"g"},{"r":5.57,"y":0.41,"c":"g"},{"r":5.62,"y":0.44,"c":"g"},{"r":5.67,"y":0.47,"c":"g"},{"r":5.72,"y":0.5,"c":"g"},{"r":5.77,"y":0.52,"c":"g"},{"r":5.82,"y":0.53,"c":"g"},{"r":5.87,"y":0.54,"c":"g"},{"r":5.92,"y":0.54,"c":"g"},{"r":5.97,"y":0.53,"c":"g"},{"r":6.02,"y":0.52,"c":"g"},{"r":6.07,"y":0.51,"c":"g"},{"r":6.12,"y":0.5,"c":"g"},{"r":6.17,"y":0.49,"c":"g"}
],
"f":[
{"r":0.143,"y":-5.28,"lo":-5.36,"hi":-5.2,"c":"b"},{"r":0.306,"y":-4.4,"lo":-4.5,"hi":-4.3,"c":"b"},{"r":0.335,"y":-3.72,"lo":-3.76,"hi":-3.68,"c":"b"},{"r":0.371,"y":-3.21,"lo":-3.26,"hi":-3.16,"c":"b"},{"r":0.409,"y":-2.81,"lo":-2.88,"hi":-2.74,"c":"b"},{"r":0.461,"y":-2.34,"lo":-2.38,"hi":-2.3,"c":"b"},{"r":0.519,"y":-2.3,"lo":-2.4,"hi":-2.2,"c":"b"},{"r":0.6,"y":-2.07,"lo":-2.42,"hi":-1.72,"c":"b"},
{"r":0.143,"y":-5.13,"lo":-5.16,"hi":-5.1,"c":"o"},{"r":0.306,"y":-4.23,"lo":-4.29,"hi":-4.17,"c":"o"},{"r":0.335,"y":-3.81,"lo":-3.85,"hi":-3.77,"c":"o"},{"r":0.371,"y":-3.26,"lo":-3.3,"hi":-3.22,"c":"o"},{"r":0.409,"y":-2.73,"lo":-2.77,"hi":-2.69,"c":"o"},{"r":0.461,"y":-2.35,"lo":-2.38,"hi":-2.32,"c":"o"},{"r":0.519,"y":-2.04,"lo":-2.07,"hi":-2.01,"c":"o"},{"r":0.6,"y":-2.14,"lo":-2.44,"hi":-1.84,"c":"o"},
{"r":0.143,"y":-4.23,"lo":-4.25,"hi":-4.21,"c":"g"},{"r":0.335,"y":-3.92,"lo":-3.95,"hi":-3.89,"c":"g"},{"r":0.371,"y":-3.43,"lo":-3.46,"hi":-3.4,"c":"g"},{"r":0.409,"y":-2.78,"lo":-2.81,"hi":-2.75,"c":"g"},{"r":0.461,"y":-2.31,"lo":-2.33,"hi":-2.29,"c":"g"},{"r":0.519,"y":-1.97,"lo":-2.0,"hi":-1.94,"c":"g"},{"r":0.6,"y":-1.79,"lo":-1.84,"hi":-1.74,"c":"g"}
],
"ffit":[
{"r":0,"y":-5.31,"c":"b"},{"r":0.148,"y":-5.28,"c":"b"},{"r":0.198,"y":-5.2,"c":"b"},{"r":0.241,"y":-5.05,"c":"b"},{"r":0.272,"y":-4.83,"c":"b"},{"r":0.297,"y":-4.52,"c":"b"},{"r":0.315,"y":-4.21,"c":"b"},{"r":0.331,"y":-3.9,"c":"b"},
{"r":0,"y":-5.2,"c":"o"},{"r":0.087,"y":-5.18,"c":"o"},{"r":0.148,"y":-5.13,"c":"o"},{"r":0.192,"y":-4.99,"c":"o"},{"r":0.229,"y":-4.8,"c":"o"},{"r":0.266,"y":-4.52,"c":"o"},{"r":0.297,"y":-4.24,"c":"o"},{"r":0.315,"y":-4.03,"c":"o"},{"r":0.331,"y":-3.84,"c":"o"},
{"r":0,"y":-4.23,"c":"g"},{"r":0.1,"y":-4.23,"c":"g"},{"r":0.15,"y":-4.23,"c":"g"},{"r":0.2,"y":-4.22,"c":"g"},{"r":0.24,"y":-4.2,"c":"g"},{"r":0.27,"y":-4.17,"c":"g"},{"r":0.3,"y":-4.11,"c":"g"},{"r":0.32,"y":-4.04,"c":"g"},{"r":0.333,"y":-3.93,"c":"g"}
]
},
"concat":[
{"width":337,"height":207,"resolve":{"axis":{"x":"independent","y":"independent"}},"layer":[
{"layer":[
 {"data":{"name":"one"},"mark":{"type":"rule","color":"#999","strokeWidth":1.2},"encoding":{"y":{"datum":0}}},
 {"data":{"name":"a"},"mark":{"type":"circle","size":26,"opacity":1},"encoding":{
  "x":{"field":"r","type":"quantitative","scale":{"domain":[0.985,3.505],"nice":false,"zero":false},"axis":{"title":"particle distance r  [aₚ]","values":[1,1.5,2,2.5,3,3.5],"format":".1f"}},
  "y":{"field":"y","type":"quantitative","scale":{"domain":[-2.188,0.292],"nice":false,"zero":false},"axis":{"title":"interaction energy E  [kʙT]","values":[0,-0.5,-1,-1.5,-2],"labelExpr":"datum.value==0?'0':format(datum.value,'.1f')"}},
  "color":{"field":"c","type":"nominal","scale":{"domain":["b","o","g","r"],"range":["#5E81B5","#E19C24","#8FB032","#EB6235"]},"legend":null}}},
 {"data":{"name":"one"},"mark":{"type":"rect","fill":"white","stroke":"#777","strokeWidth":1},"encoding":{"x":{"datum":1.875},"x2":{"datum":2.518},"y":{"datum":0.675},"y2":{"datum":0.448}}},
 {"data":{"name":"one"},"mark":{"type":"text","fontWeight":"bold","fontSize":14,"color":"#111"},"encoding":{"x":{"datum":2.196},"y":{"datum":0.56},"text":{"value":"arc angle 60°"}}},
 {"data":{"name":"one"},"mark":{"type":"text","align":"left","baseline":"alphabetic","fontWeight":"bold","fontSize":16,"color":"#111"},"encoding":{"x":{"datum":1.012},"y":{"datum":0.358},"text":{"value":"a"}}},
 {"data":{"name":"one"},"mark":{"type":"text","align":"left","fontWeight":"bold","fontSize":13,"color":"#111"},"encoding":{"x":{"datum":1.04},"y":{"datum":0.16},"text":{"value":"X = 0.05"}}},
 {"data":{"name":"one"},"mark":{"type":"text","align":"right","fontWeight":"bold","fontSize":14,"color":"#5E81B5"},"encoding":{"x":{"datum":3.405},"y":{"datum":-1.368},"text":{"value":"v = 0.95"}}},
 {"data":{"name":"one"},"mark":{"type":"text","align":"right","fontWeight":"bold","fontSize":14,"color":"#E19C24"},"encoding":{"x":{"datum":3.405},"y":{"datum":-1.576},"text":{"value":"v = 0.6"}}},
 {"data":{"name":"one"},"mark":{"type":"text","align":"right","fontWeight":"bold","fontSize":14,"color":"#8FB032"},"encoding":{"x":{"datum":3.405},"y":{"datum":-1.788},"text":{"value":"v = 0.5"}}},
 {"data":{"name":"one"},"mark":{"type":"text","align":"right","fontWeight":"bold","fontSize":14,"color":"#EB6235"},"encoding":{"x":{"datum":3.405},"y":{"datum":-1.996},"text":{"value":"v = 0.4"}}}
]},
{"data":{"name":"a"},"mark":{"type":"point","opacity":0},"encoding":{"x":{"field":"r","type":"quantitative","axis":{"orient":"top","labels":false,"title":null,"values":[1,1.5,2,2.5,3,3.5]}},"y":{"field":"y","type":"quantitative","axis":{"orient":"right","labels":false,"title":null,"values":[0,-0.5,-1,-1.5,-2]}}}}
]},
{"width":337,"height":207,"resolve":{"axis":{"x":"independent","y":"independent"}},"layer":[
{"layer":[
 {"data":{"name":"one"},"mark":{"type":"rule","color":"#999","strokeWidth":1.2},"encoding":{"x":{"datum":1.0},"x2":{"datum":1.06},"y":{"datum":0}}},
 {"data":{"name":"one"},"mark":{"type":"rule","color":"#999","strokeWidth":1.2},"encoding":{"x":{"datum":1.56},"x2":{"datum":4.2},"y":{"datum":0}}},
 {"data":{"name":"d"},"mark":{"type":"circle","size":26,"opacity":1},"encoding":{
  "x":{"field":"r","type":"quantitative","scale":{"domain":[1,4.2],"nice":false,"zero":false},"axis":{"title":"particle distance r  [aₚ]","values":[1,1.5,2,2.5,3,3.5,4],"format":"~g"}},
  "y":{"field":"y","type":"quantitative","scale":{"domain":[-5.53,0.485],"nice":false,"zero":false},"axis":{"title":"interaction energy E  [kʙT]","values":[0,-1,-2,-3,-4,-5],"format":"d"}},
  "color":{"field":"c","type":"nominal","scale":{"domain":["b","o","g","r"],"range":["#5E81B5","#E19C24","#8FB032","#EB6235"]},"legend":null}}},
 {"data":{"name":"one"},"mark":{"type":"rect","fill":"white","stroke":"#777","strokeWidth":1},"encoding":{"x":{"datum":2.168},"x2":{"datum":2.985},"y":{"datum":1.415},"y2":{"datum":0.863}}},
 {"data":{"name":"one"},"mark":{"type":"text","fontWeight":"bold","fontSize":14,"color":"#111"},"encoding":{"x":{"datum":2.576},"y":{"datum":1.13},"text":{"value":"arc angle 90°"}}},
 {"data":{"name":"one"},"mark":{"type":"text","align":"left","baseline":"alphabetic","fontWeight":"bold","fontSize":16,"color":"#111"},"encoding":{"x":{"datum":1.02},"y":{"datum":0.645},"text":{"value":"d"}}},
 {"data":{"name":"one"},"mark":{"type":"text","align":"left","fontWeight":"bold","fontSize":13,"color":"#111"},"encoding":{"x":{"datum":1.1},"y":{"datum":0.0},"text":{"value":"X = 0.09"}}},
 {"data":{"name":"one"},"mark":{"type":"text","align":"right","fontWeight":"bold","fontSize":14,"color":"#5E81B5"},"encoding":{"x":{"datum":4.1},"y":{"datum":-3.09},"text":{"value":"v = 0.95"}}},
 {"data":{"name":"one"},"mark":{"type":"text","align":"right","fontWeight":"bold","fontSize":14,"color":"#E19C24"},"encoding":{"x":{"datum":4.1},"y":{"datum":-3.59},"text":{"value":"v = 0.6"}}},
 {"data":{"name":"one"},"mark":{"type":"text","align":"right","fontWeight":"bold","fontSize":14,"color":"#8FB032"},"encoding":{"x":{"datum":4.1},"y":{"datum":-4.11},"text":{"value":"v = 0.5"}}},
 {"data":{"name":"one"},"mark":{"type":"text","align":"right","fontWeight":"bold","fontSize":14,"color":"#EB6235"},"encoding":{"x":{"datum":4.1},"y":{"datum":-4.61},"text":{"value":"v = 0.4"}}}
]},
{"data":{"name":"d"},"mark":{"type":"point","opacity":0},"encoding":{"x":{"field":"r","type":"quantitative","axis":{"orient":"top","labels":false,"title":null,"values":[1,1.5,2,2.5,3,3.5,4]}},"y":{"field":"y","type":"quantitative","axis":{"orient":"right","labels":false,"title":null,"values":[0,-1,-2,-3,-4,-5]}}}}
]},
{"width":337,"height":207,"resolve":{"axis":{"x":"independent","y":"independent"}},"layer":[
{"layer":[
 {"data":{"name":"one"},"mark":{"type":"rule","color":"#999","strokeWidth":1.2},"encoding":{"y":{"datum":0}}},
 {"data":{"name":"b"},"mark":{"type":"circle","size":26,"opacity":1},"encoding":{
  "x":{"field":"r","type":"quantitative","scale":{"domain":[1,4.2],"nice":false,"zero":false},"axis":{"title":"particle distance r  [aₚ]","values":[1,1.5,2,2.5,3,3.5,4],"format":".1f"}},
  "y":{"field":"y","type":"quantitative","scale":{"domain":[-2.3,0.39],"nice":false,"zero":false},"axis":{"title":"interaction energy E  [kʙT]","values":[0,-0.5,-1,-1.5,-2],"labelExpr":"datum.value==0?'0':format(datum.value,'.1f')"}},
  "color":{"field":"c","type":"nominal","scale":{"domain":["b","o","g","r"],"range":["#5E81B5","#E19C24","#8FB032","#EB6235"]},"legend":null}}},
 {"data":{"name":"one"},"mark":{"type":"text","align":"left","baseline":"alphabetic","fontWeight":"bold","fontSize":16,"color":"#111"},"encoding":{"x":{"datum":1.01},"y":{"datum":0.455},"text":{"value":"b"}}},
 {"data":{"name":"one"},"mark":{"type":"text","align":"left","fontWeight":"bold","fontSize":13,"color":"#111"},"encoding":{"x":{"datum":1.07},"y":{"datum":0.216},"text":{"value":"v = 0.95"}}},
 {"data":{"name":"one"},"mark":{"type":"text","align":"right","fontSize":12,"color":"#111"},"encoding":{"x":{"datum":4.14},"y":{"datum":0.235},"text":{"value":"(b)"}}},
 {"data":{"name":"one"},"mark":{"type":"text","align":"right","fontWeight":"bold","fontSize":14,"color":"#5E81B5"},"encoding":{"x":{"datum":4.08},"y":{"datum":-1.615},"text":{"value":"X = 0.05"}}},
 {"data":{"name":"one"},"mark":{"type":"text","align":"right","fontWeight":"bold","fontSize":14,"color":"#E19C24"},"encoding":{"x":{"datum":4.08},"y":{"datum":-1.84},"text":{"value":"X = 0.1"}}},
 {"data":{"name":"one"},"mark":{"type":"text","align":"right","fontWeight":"bold","fontSize":14,"color":"#8FB032"},"encoding":{"x":{"datum":4.08},"y":{"datum":-2.07},"text":{"value":"X = 0.2"}}}
]},
{"data":{"name":"b"},"mark":{"type":"point","opacity":0},"encoding":{"x":{"field":"r","type":"quantitative","axis":{"orient":"top","labels":false,"title":null,"values":[1,1.5,2,2.5,3,3.5,4]}},"y":{"field":"y","type":"quantitative","axis":{"orient":"right","labels":false,"title":null,"values":[0,-0.5,-1,-1.5,-2]}}}}
]},
{"width":337,"height":207,"resolve":{"axis":{"x":"independent","y":"independent"}},"layer":[
{"layer":[
 {"data":{"name":"one"},"mark":{"type":"rule","color":"#999","strokeWidth":1.2},"encoding":{"y":{"datum":0}}},
 {"data":{"name":"e"},"mark":{"type":"circle","size":24,"opacity":1},"encoding":{
  "x":{"field":"r","type":"quantitative","scale":{"domain":[1,6.2],"nice":false,"zero":false},"axis":{"title":"particle distance r  [aₚ]","values":[1,2,3,4,5,6],"format":"d"}},
  "y":{"field":"y","type":"quantitative","scale":{"domain":[-5.66,0.68],"nice":false,"zero":false},"axis":{"title":"interaction energy E  [kʙT]","values":[0,-1,-2,-3,-4,-5],"format":"d"}},
  "color":{"field":"c","type":"nominal","scale":{"domain":["b","o","g","r"],"range":["#5E81B5","#E19C24","#8FB032","#EB6235"]},"legend":null}}},
 {"data":{"name":"one"},"mark":{"type":"text","align":"left","baseline":"alphabetic","fontWeight":"bold","fontSize":16,"color":"#111"},"encoding":{"x":{"datum":1.03},"y":{"datum":0.833},"text":{"value":"e"}}},
 {"data":{"name":"one"},"mark":{"type":"text","align":"left","fontWeight":"bold","fontSize":13,"color":"#111"},"encoding":{"x":{"datum":1.13},"y":{"datum":0.27},"text":{"value":"v = 0.95"}}},
 {"data":{"name":"one"},"mark":{"type":"text","align":"right","fontWeight":"bold","fontSize":14,"color":"#5E81B5"},"encoding":{"x":{"datum":6.03},"y":{"datum":-3.34},"text":{"value":"X = 0.09"}}},
 {"data":{"name":"one"},"mark":{"type":"text","align":"right","fontWeight":"bold","fontSize":14,"color":"#E19C24"},"encoding":{"x":{"datum":6.03},"y":{"datum":-3.88},"text":{"value":"X = 0.15"}}},
 {"data":{"name":"one"},"mark":{"type":"text","align":"right","fontWeight":"bold","fontSize":14,"color":"#8FB032"},"encoding":{"x":{"datum":6.03},"y":{"datum":-4.41},"text":{"value":"X = 0.2"}}}
]},
{"data":{"name":"e"},"mark":{"type":"point","opacity":0},"encoding":{"x":{"field":"r","type":"quantitative","axis":{"orient":"top","labels":false,"title":null,"values":[1,2,3,4,5,6]}},"y":{"field":"y","type":"quantitative","axis":{"orient":"right","labels":false,"title":null,"values":[0,-1,-2,-3,-4,-5]}}}}
]},
{"width":337,"height":207,"resolve":{"axis":{"x":"independent","y":"independent"}},"layer":[
{"layer":[
 {"data":{"name":"cfit"},"mark":{"type":"line","strokeDash":[5,3],"strokeWidth":1.5,"interpolate":"monotone"},"encoding":{
  "x":{"field":"r","type":"quantitative","scale":{"domain":[0,0.63],"nice":false,"zero":false},"axis":{"title":"membrane curvature  [1/aₚ]","values":[0,0.1,0.2,0.3,0.4,0.5,0.6],"format":"~g"}},
  "y":{"field":"y","type":"quantitative","title":"minimum interaction energy  [kʙT]","scale":{"domain":[-2.25,-1.288],"nice":false,"zero":false},"axis":{"values":[-1.4,-1.6,-1.8,-2.0,-2.2],"format":".1f"}},
  "color":{"field":"c","type":"nominal","scale":{"domain":["b","o","g","r"],"range":["#5E81B5","#E19C24","#8FB032","#EB6235"]},"legend":null}}},
 {"data":{"name":"c"},"mark":{"type":"errorbar","ticks":{"size":8},"opacity":0.6},"encoding":{"x":{"field":"r","type":"quantitative","title":"membrane curvature  [1/aₚ]"},"y":{"field":"lo","type":"quantitative","title":"minimum interaction energy  [kʙT]"},"y2":{"field":"hi"},"color":{"field":"c","type":"nominal"}}},
 {"data":{"name":"c"},"mark":{"type":"circle","size":64,"opacity":1},"encoding":{"x":{"field":"r","type":"quantitative","title":"membrane curvature  [1/aₚ]"},"y":{"field":"y","type":"quantitative","title":"minimum interaction energy  [kʙT]"},"color":{"field":"c","type":"nominal"}}},
 {"data":{"name":"one"},"mark":{"type":"text","align":"left","baseline":"alphabetic","fontWeight":"bold","fontSize":16,"color":"#111"},"encoding":{"x":{"datum":0.004},"y":{"datum":-1.251},"text":{"value":"c"}}},
 {"data":{"name":"one"},"mark":{"type":"text","align":"right","fontWeight":"bold","fontSize":14,"color":"#5E81B5"},"encoding":{"x":{"datum":0.609},"y":{"datum":-1.963},"text":{"value":"X = 0.05"}}},
 {"data":{"name":"one"},"mark":{"type":"text","align":"right","fontWeight":"bold","fontSize":14,"color":"#E19C24"},"encoding":{"x":{"datum":0.609},"y":{"datum":-2.048},"text":{"value":"X = 0.1"}}},
 {"data":{"name":"one"},"mark":{"type":"text","align":"right","fontWeight":"bold","fontSize":14,"color":"#8FB032"},"encoding":{"x":{"datum":0.609},"y":{"datum":-2.13},"text":{"value":"X = 0.2"}}}
]},
{"data":{"name":"cfit"},"mark":{"type":"point","opacity":0},"encoding":{"x":{"field":"r","type":"quantitative","axis":{"orient":"top","labels":false,"title":null,"values":[0,0.1,0.2,0.3,0.4,0.5,0.6]}},"y":{"field":"y","type":"quantitative","axis":{"orient":"right","labels":false,"title":null,"values":[-1.4,-1.6,-1.8,-2.0,-2.2]}}}}
]},
{"width":337,"height":207,"resolve":{"axis":{"x":"independent","y":"independent"}},"layer":[
{"layer":[
 {"data":{"name":"ffit"},"mark":{"type":"line","strokeDash":[5,3],"strokeWidth":1.5,"interpolate":"monotone"},"encoding":{
  "x":{"field":"r","type":"quantitative","scale":{"domain":[0,0.623],"nice":false,"zero":false},"axis":{"title":"membrane curvature  [1/aₚ]","values":[0,0.1,0.2,0.3,0.4,0.5,0.6],"format":"~g"}},
  "y":{"field":"y","type":"quantitative","title":"minimum interaction energy  [kʙT]","scale":{"domain":[-5.51,-1.68],"nice":false,"zero":false},"axis":{"values":[-2,-2.5,-3,-3.5,-4,-4.5,-5,-5.5],"format":".1f","tickCount":20}},
  "color":{"field":"c","type":"nominal","scale":{"domain":["b","o","g","r"],"range":["#5E81B5","#E19C24","#8FB032","#EB6235"]},"legend":null}}},
 {"data":{"name":"f"},"mark":{"type":"errorbar","ticks":{"size":8},"opacity":0.6},"encoding":{"x":{"field":"r","type":"quantitative","title":"membrane curvature  [1/aₚ]"},"y":{"field":"lo","type":"quantitative","title":"minimum interaction energy  [kʙT]"},"y2":{"field":"hi"},"color":{"field":"c","type":"nominal"}}},
 {"data":{"name":"f"},"mark":{"type":"circle","size":64,"opacity":1},"encoding":{"x":{"field":"r","type":"quantitative","title":"membrane curvature  [1/aₚ]"},"y":{"field":"y","type":"quantitative","title":"minimum interaction energy  [kʙT]"},"color":{"field":"c","type":"nominal"}}},
 {"data":{"name":"one"},"mark":{"type":"text","align":"left","baseline":"alphabetic","fontWeight":"bold","fontSize":16,"color":"#111"},"encoding":{"x":{"datum":0.004},"y":{"datum":-1.532},"text":{"value":"f"}}},
 {"data":{"name":"one"},"mark":{"type":"text","align":"right","fontWeight":"bold","fontSize":14,"color":"#5E81B5"},"encoding":{"x":{"datum":0.603},"y":{"datum":-3.905},"text":{"value":"X = 0.09"}}},
 {"data":{"name":"one"},"mark":{"type":"text","align":"right","fontWeight":"bold","fontSize":14,"color":"#E19C24"},"encoding":{"x":{"datum":0.603},"y":{"datum":-4.226},"text":{"value":"X = 0.15"}}},
 {"data":{"name":"one"},"mark":{"type":"text","align":"right","fontWeight":"bold","fontSize":14,"color":"#8FB032"},"encoding":{"x":{"datum":0.603},"y":{"datum":-4.554},"text":{"value":"X = 0.2"}}}
]},
{"data":{"name":"ffit"},"mark":{"type":"point","opacity":0},"encoding":{"x":{"field":"r","type":"quantitative","axis":{"orient":"top","labels":false,"title":null,"values":[0,0.1,0.2,0.3,0.4,0.5,0.6]}},"y":{"field":"y","type":"quantitative","axis":{"orient":"right","labels":false,"title":null,"values":[-2,-2.5,-3,-3.5,-4,-4.5,-5,-5.5],"tickCount":20}}}}
]}
],
"config":{
 "font":"Liberation Sans",
 "view":{"stroke":"#8a8a8a","strokeWidth":1},
 "axis":{"grid":false,"domain":false,"ticks":true,"tickSize":-5,"tickCount":20,"tickColor":"#8a8a8a","labelFont":"Liberation Sans","labelFontSize":12,"labelColor":"#111","labelPadding":8,"labelFlush":false,"labelOverlap":false,"titleFont":"Liberation Sans","titleFontSize":13,"titleFontWeight":"normal","titleColor":"#111","titlePadding":3},
 "text":{"font":"Liberation Sans"}
}
}
